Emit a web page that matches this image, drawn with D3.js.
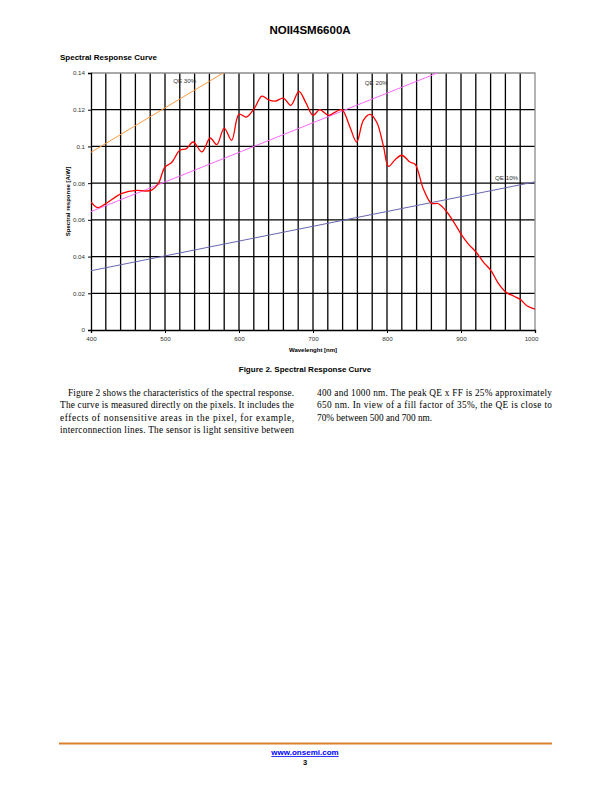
<!DOCTYPE html>
<html>
<head>
<meta charset="utf-8">
<script src="https://cdn.jsdelivr.net/npm/d3@7"></script>
<style>
  body { margin: 0; background: #fff; }
  svg { display: block; }
</style>
</head>
<body>
<div id="page"></div>
<script>
var wavelength = [400, 409, 420, 441, 462, 473, 482, 491, 500, 509, 520, 529, 538, 550, 561, 570, 580, 590, 600, 610,
	621, 631, 640, 649, 660, 670, 681, 690, 700, 709, 721, 730, 739, 750, 759, 768, 777, 786, 795, 802,
	811, 820, 831, 838, 849, 860, 869, 881, 890, 901, 910, 921, 930, 941, 950, 961, 971, 980, 989, 1000];
var response = [0.0698, 0.0667, 0.0689, 0.0743, 0.0761, 0.0757, 0.0762, 0.0798, 0.0888, 0.0912, 0.0979, 0.0988, 0.1024, 0.0970, 0.1046, 0.1010, 0.1100, 0.1033, 0.1175, 0.1160,
	0.1209, 0.1274, 0.1254, 0.1247, 0.1263, 0.1224, 0.1300, 0.1241, 0.1169, 0.1200, 0.1169, 0.1187, 0.1200, 0.1105, 0.1024, 0.1142, 0.1175, 0.1133, 0.1006, 0.0892,
	0.0928, 0.0952, 0.0915, 0.0903, 0.0770, 0.0690, 0.0689, 0.0643, 0.0589, 0.0517, 0.0468, 0.0421, 0.0371, 0.0321, 0.0257, 0.0205, 0.0185, 0.0167, 0.0132, 0.0113];

// constant QE reference lines, end points [nm, A/W]
var qeNames = ["QE 30%", "QE 20%", "QE 10%"];
var qeStart = [[400, 0.0968], [400, 0.0645], [400, 0.0323]];
var qeEnd = [[1000, 0.2420], [1000, 0.1613], [1000, 0.0807]];
var qeColors = ["#FF9940", "#FF66FF", "#6666B0"];

var xTicks = [400, 500, 600, 700, 800, 900, 1000];
var yTicks = [0, 0.02, 0.04, 0.06, 0.08, 0.1, 0.12, 0.14];
var yTickLabels = ["0", "0.02", "0.04", "0.06", "0.08", "0.1", "0.12", "0.14"];

var leftLines = [
	"Figure 2 shows the characteristics of the spectral response.",
	"The curve is measured directly on the pixels. It includes the",
	"effects of nonsensitive areas in the pixel, for example,",
	"interconnection lines. The sensor is light sensitive between"
];
var rightLines = [
	"400 and 1000 nm. The peak QE x FF is 25% approximately",
	"650 nm. In view of a fill factor of 35%, the QE is close to",
	"70% between 500 and 700 nm."
];

var sans = "'Liberation Sans', Arial, sans-serif";
var serif = "'Liberation Serif', 'Times New Roman', serif";

var svg = d3.select("#page")
	.append("svg")
	.attr("width", 612)
	.attr("height", 792);

// ----------------------------------------------------------
// page header
svg.append("text")
	.attr("x", 310)
	.attr("y", 34)
	.attr("text-anchor", "middle")
	.attr("font-family", sans)
	.attr("font-weight", "bold")
	.attr("font-size", 11.5)
	.text("NOII4SM6600A");

svg.append("text")
	.attr("x", 60)
	.attr("y", 60)
	.attr("font-family", sans)
	.attr("font-weight", "bold")
	.attr("font-size", 8)
	.text("Spectral Response Curve");

// ----------------------------------------------------------
// chart
var x = d3.scaleLinear().domain([400, 1000]).range([91, 535]);
var y = d3.scaleLinear().domain([0, 0.14]).range([330, 73]);

svg.append("clipPath")
	.attr("id", "plot")
	.append("rect")
	.attr("x", x(400))
	.attr("y", y(0.14))
	.attr("width", x(1000) - x(400))
	.attr("height", y(0) - y(0.14));

// vertical grid every 20 nm
svg.append("g")
	.selectAll("line")
	.data(d3.range(420, 1000, 20))
	.enter().append("line")
	.attr("x1", function(d) { return x(d); })
	.attr("x2", function(d) { return x(d); })
	.attr("y1", y(0))
	.attr("y2", y(0.14))
	.attr("stroke", "#000")
	.attr("stroke-width", 1.3);

// horizontal grid
svg.append("g")
	.selectAll("line")
	.data(yTicks.slice(1, -1))
	.enter().append("line")
	.attr("x1", x(400))
	.attr("x2", x(1000))
	.attr("y1", function(d) { return y(d); })
	.attr("y2", function(d) { return y(d); })
	.attr("stroke", "#000")
	.attr("stroke-width", 1.3);

// grey frame top / right
svg.append("path")
	.attr("d", "M" + x(400) + "," + y(0.14) + "H" + x(1000) + "V" + y(0))
	.attr("fill", "none")
	.attr("stroke", "#8c8c8c")
	.attr("stroke-width", 1.3);

// axes
var xAxis = svg.append("g")
	.attr("transform", "translate(0," + y(0) + ")")
	.call(d3.axisBottom(x).tickValues(xTicks).tickSize(3).tickPadding(4).tickFormat(d3.format("d")));
var yAxis = svg.append("g")
	.attr("transform", "translate(" + x(400) + ",0)")
	.call(d3.axisLeft(y).tickValues(yTicks).tickSize(3).tickPadding(3)
		.tickFormat(function(d, i) { return yTickLabels[i]; }));

[xAxis, yAxis].forEach(function(a) {
	a.select(".domain").attr("stroke", "#000").attr("stroke-width", 1.3);
	a.selectAll(".tick line").attr("stroke", "#000").attr("stroke-width", 1);
	a.selectAll(".tick text")
		.attr("font-family", sans)
		.attr("font-size", 6.2)
		.attr("fill", "#333");
});
// last label sits a little inside the frame
xAxis.selectAll(".tick text").filter(function(d) { return d === 1000; }).attr("dx", -4);

// QE reference lines
var qeGroup = svg.append("g").attr("clip-path", "url(#plot)");
qeNames.forEach(function(name, i) {
	qeGroup.append("line")
		.attr("x1", x(qeStart[i][0]))
		.attr("y1", y(qeStart[i][1]))
		.attr("x2", x(qeEnd[i][0]))
		.attr("y2", y(qeEnd[i][1]))
		.attr("stroke", qeColors[i])
		.attr("stroke-width", 1);
});

// QE labels (placed at nm / A/W)
var qeLabelAt = [[511, 0.1345], [770, 0.1335], [946, 0.0815]];
qeNames.forEach(function(name, i) {
	svg.append("text")
		.attr("x", x(qeLabelAt[i][0]))
		.attr("y", y(qeLabelAt[i][1]))
		.attr("font-family", sans)
		.attr("font-size", 6.2)
		.attr("fill", "#333")
		.text(name);
});

// measured curve
var pts = wavelength.map(function(w, i) { return [w, response[i]]; });
var line = d3.line()
	.x(function(d) { return x(d[0]); })
	.y(function(d) { return y(d[1]); })
	.curve(d3.curveCatmullRom.alpha(0.5));

svg.append("path")
	.datum(pts)
	.attr("clip-path", "url(#plot)")
	.attr("d", line)
	.attr("fill", "none")
	.attr("stroke", "#FF0000")
	.attr("stroke-width", 1.3);

// axis titles
svg.append("text")
	.attr("x", (x(400) + x(1000)) / 2)
	.attr("y", 352)
	.attr("text-anchor", "middle")
	.attr("font-family", sans)
	.attr("font-weight", "bold")
	.attr("font-size", 6)
	.text("Wavelenght [nm]");

svg.append("text")
	.attr("transform", "translate(70," + ((y(0) + y(0.14)) / 2) + ") rotate(-90)")
	.attr("text-anchor", "middle")
	.attr("font-family", sans)
	.attr("font-weight", "bold")
	.attr("font-size", 6)
	.text("Spectral response [A/W]");

// ----------------------------------------------------------
// caption and body text
svg.append("text")
	.attr("x", 305)
	.attr("y", 372)
	.attr("text-anchor", "middle")
	.attr("font-family", sans)
	.attr("font-weight", "bold")
	.attr("font-size", 8)
	.text("Figure 2. Spectral Response Curve");

function column(lines, x0, x1, indent, justifyLast) {
	lines.forEach(function(t, i) {
		var start = x0 + (i === 0 ? indent : 0);
		var txt = svg.append("text")
			.attr("x", start)
			.attr("y", 396 + i * 12.3)
			.attr("font-family", serif)
			.attr("font-size", 9.3)
			.attr("fill", "#000")
			.text(t);
		if (i < lines.length - 1 || justifyLast) {
			txt.attr("textLength", x1 - start).attr("lengthAdjust", "spacing");
		}
	});
}
column(leftLines, 60, 294, 8, true);
column(rightLines, 317, 552, 0, false);

// ----------------------------------------------------------
// footer
svg.append("line")
	.attr("x1", 59)
	.attr("x2", 552)
	.attr("y1", 743.5)
	.attr("y2", 743.5)
	.attr("stroke", "#D9822B")
	.attr("stroke-width", 1.8);

svg.append("text")
	.attr("x", 305)
	.attr("y", 755)
	.attr("text-anchor", "middle")
	.attr("font-family", sans)
	.attr("font-weight", "bold")
	.attr("font-size", 8)
	.attr("fill", "#0000FF")
	.attr("text-decoration", "underline")
	.text("www.onsemi.com");

svg.append("text")
	.attr("x", 305)
	.attr("y", 765)
	.attr("text-anchor", "middle")
	.attr("font-family", sans)
	.attr("font-weight", "bold")
	.attr("font-size", 7.5)
	.text("3");
</script>
</body>
</html>
